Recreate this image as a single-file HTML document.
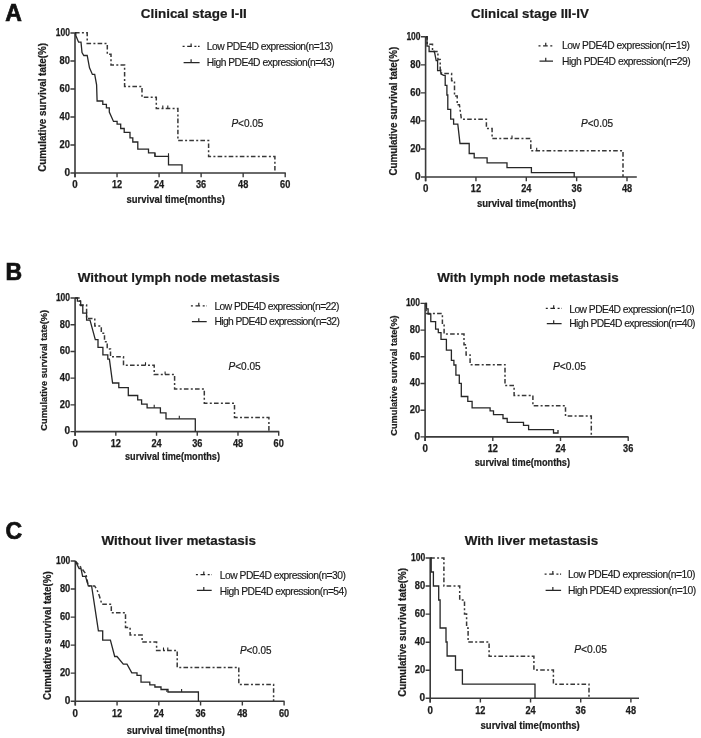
<!DOCTYPE html><html><head><meta charset="utf-8"><style>html,body{margin:0;padding:0;background:#fff}svg{display:block;filter:blur(0.3px)}text{font-family:"Liberation Sans",sans-serif}</style></head><body>
<svg width="701" height="738" viewBox="0 0 701 738">
<rect width="701" height="738" fill="#fff"/>
<text x="5.3" y="21.0" font-size="23" font-weight="bold" fill="#111" stroke="#111" stroke-width="0.7">A</text>
<text x="5.5" y="280.1" font-size="23" font-weight="bold" fill="#111" stroke="#111" stroke-width="0.7">B</text>
<text x="5.5" y="539.0" font-size="23" font-weight="bold" fill="#111" stroke="#111" stroke-width="0.7">C</text>
<path d="M75,33.0 V177.2 M75,173.0 H285.8" stroke="#3a3a3a" stroke-width="1.6" fill="none"/>
<path d="M70.4,173.00 H75 M70.4,145.00 H75 M70.4,117.00 H75 M70.4,89.00 H75 M70.4,61.00 H75 M70.4,33.00 H75 M75.00,173.0 V177.2 M117.04,173.0 V177.2 M159.08,173.0 V177.2 M201.12,173.0 V177.2 M243.16,173.0 V177.2 M285.20,173.0 V177.2 " stroke="#3a3a3a" stroke-width="1.4" fill="none"/>
<text x="70.0" y="175.80" font-size="10.0" font-weight="bold" text-anchor="end" fill="#1c1c1c" stroke="#1c1c1c" stroke-width="0.25" textLength="5.6" lengthAdjust="spacingAndGlyphs">0</text>
<text x="70.0" y="147.80" font-size="10.0" font-weight="bold" text-anchor="end" fill="#1c1c1c" stroke="#1c1c1c" stroke-width="0.25" textLength="10.4" lengthAdjust="spacingAndGlyphs">20</text>
<text x="70.0" y="119.80" font-size="10.0" font-weight="bold" text-anchor="end" fill="#1c1c1c" stroke="#1c1c1c" stroke-width="0.25" textLength="10.4" lengthAdjust="spacingAndGlyphs">40</text>
<text x="70.0" y="91.80" font-size="10.0" font-weight="bold" text-anchor="end" fill="#1c1c1c" stroke="#1c1c1c" stroke-width="0.25" textLength="10.4" lengthAdjust="spacingAndGlyphs">60</text>
<text x="70.0" y="63.80" font-size="10.0" font-weight="bold" text-anchor="end" fill="#1c1c1c" stroke="#1c1c1c" stroke-width="0.25" textLength="10.4" lengthAdjust="spacingAndGlyphs">80</text>
<text x="70.0" y="35.80" font-size="10.0" font-weight="bold" text-anchor="end" fill="#1c1c1c" stroke="#1c1c1c" stroke-width="0.25" textLength="14.2" lengthAdjust="spacingAndGlyphs">100</text>
<text x="75.00" y="188.30" font-size="10.0" font-weight="bold" text-anchor="middle" fill="#1c1c1c" stroke="#1c1c1c" stroke-width="0.25" textLength="5.4" lengthAdjust="spacingAndGlyphs">0</text>
<text x="117.04" y="188.30" font-size="10.0" font-weight="bold" text-anchor="middle" fill="#1c1c1c" stroke="#1c1c1c" stroke-width="0.25" textLength="10.2" lengthAdjust="spacingAndGlyphs">12</text>
<text x="159.08" y="188.30" font-size="10.0" font-weight="bold" text-anchor="middle" fill="#1c1c1c" stroke="#1c1c1c" stroke-width="0.25" textLength="10.2" lengthAdjust="spacingAndGlyphs">24</text>
<text x="201.12" y="188.30" font-size="10.0" font-weight="bold" text-anchor="middle" fill="#1c1c1c" stroke="#1c1c1c" stroke-width="0.25" textLength="10.2" lengthAdjust="spacingAndGlyphs">36</text>
<text x="243.16" y="188.30" font-size="10.0" font-weight="bold" text-anchor="middle" fill="#1c1c1c" stroke="#1c1c1c" stroke-width="0.25" textLength="10.2" lengthAdjust="spacingAndGlyphs">48</text>
<text x="285.20" y="188.30" font-size="10.0" font-weight="bold" text-anchor="middle" fill="#1c1c1c" stroke="#1c1c1c" stroke-width="0.25" textLength="10.2" lengthAdjust="spacingAndGlyphs">60</text>
<text x="126.5" y="203" font-size="10" font-weight="bold" text-anchor="start" fill="#1c1c1c" stroke="#1c1c1c" stroke-width="0.22" textLength="98.5" lengthAdjust="spacingAndGlyphs">survival time(months)</text>
<text transform="translate(46.1,171.8) rotate(-90)" x="0" y="0" font-size="10" font-weight="bold" fill="#1c1c1c" stroke="#1c1c1c" stroke-width="0.22" textLength="128.8" lengthAdjust="spacingAndGlyphs">Cumulative survival tate(%)</text>
<text x="140.8" y="18.0" font-size="13.3" font-weight="bold" text-anchor="start" fill="#1c1c1c" stroke="#1c1c1c" stroke-width="0.22" textLength="106.0" lengthAdjust="spacingAndGlyphs">Clinical stage I-II</text>
<path d="M75,32.8 H87.2 V43.5 H107.3 V54.2 H111 V65 H124.6 V86.4 H142 V97.2 H156.3 V108.6 H177.9 V140.5 H208.6 V156.6 H274.9 V172.8" stroke="#383838" stroke-width="1.5" fill="none" stroke-dasharray="4.6 2.3 2 2.2"/>
<path d="M75,32.8 H75.8 V35.6 L78.6,42.2 H81 L82,52.6 L83.8,55.5 H87.2 L89.5,67.8 L92.4,74.4 H94.7 L96.6,84.9 L97.1,101 H102.8 V104.3 H106.4 V107.8 H109.3 V112.1 L113.5,121.4 H117.1 V124.2 H120.7 V128.5 H124.2 V132.4 H130 V137.8 H132.8 V142 H137.8 V149.2 H148.5 V152.8 H154.9 V156.3 H168.5 V164.9 H182 V172.8" stroke="#262626" stroke-width="1.3" fill="none"/>
<path d="M162.8,108.6 V105.6 M167.8,108.6 V105.6 M155,156.3 V153.3 M168.5,156.3 V153.3 " stroke="#262626" stroke-width="1.1" fill="none"/>
<path d="M182.6,46.4 H199.6" stroke="#262626" stroke-width="1.2" fill="none" stroke-dasharray="2 2.6 4.6 2.6 2 1.6 1.8 9"/>
<path d="M191.1,46.4 V43.4 M183.6,62.7 H199.6 M191.1,62.7 V59.300000000000004" stroke="#262626" stroke-width="1.2" fill="none"/>
<text x="206.7" y="49.8" font-size="10.3" fill="#1a1a1a" stroke="#1a1a1a" stroke-width="0.15" textLength="126.5" lengthAdjust="spacing">Low PDE4D expression(n=13)</text>
<text x="206.7" y="65.5" font-size="10.3" fill="#1a1a1a" stroke="#1a1a1a" stroke-width="0.15" textLength="128" lengthAdjust="spacing">High PDE4D expression(n=43)</text>
<text x="231.4" y="127.1" font-size="10.2" fill="#1a1a1a" stroke="#1a1a1a" stroke-width="0.2" textLength="32.0" lengthAdjust="spacingAndGlyphs"><tspan font-style="italic">P</tspan>&lt;0.05</text>
<path d="M425.6,36.8 V181.2 M425.6,177 H636.8" stroke="#3a3a3a" stroke-width="1.6" fill="none"/>
<path d="M421.0,177.00 H425.6 M421.0,148.96 H425.6 M421.0,120.92 H425.6 M421.0,92.88 H425.6 M421.0,64.84 H425.6 M421.0,36.80 H425.6 M425.60,177 V181.2 M475.95,177 V181.2 M526.30,177 V181.2 M576.65,177 V181.2 M627.00,177 V181.2 " stroke="#3a3a3a" stroke-width="1.4" fill="none"/>
<text x="420.6" y="179.80" font-size="10.0" font-weight="bold" text-anchor="end" fill="#1c1c1c" stroke="#1c1c1c" stroke-width="0.25" textLength="5.6" lengthAdjust="spacingAndGlyphs">0</text>
<text x="420.6" y="151.76" font-size="10.0" font-weight="bold" text-anchor="end" fill="#1c1c1c" stroke="#1c1c1c" stroke-width="0.25" textLength="10.4" lengthAdjust="spacingAndGlyphs">20</text>
<text x="420.6" y="123.72" font-size="10.0" font-weight="bold" text-anchor="end" fill="#1c1c1c" stroke="#1c1c1c" stroke-width="0.25" textLength="10.4" lengthAdjust="spacingAndGlyphs">40</text>
<text x="420.6" y="95.68" font-size="10.0" font-weight="bold" text-anchor="end" fill="#1c1c1c" stroke="#1c1c1c" stroke-width="0.25" textLength="10.4" lengthAdjust="spacingAndGlyphs">60</text>
<text x="420.6" y="67.64" font-size="10.0" font-weight="bold" text-anchor="end" fill="#1c1c1c" stroke="#1c1c1c" stroke-width="0.25" textLength="10.4" lengthAdjust="spacingAndGlyphs">80</text>
<text x="420.6" y="39.60" font-size="10.0" font-weight="bold" text-anchor="end" fill="#1c1c1c" stroke="#1c1c1c" stroke-width="0.25" textLength="14.2" lengthAdjust="spacingAndGlyphs">100</text>
<text x="425.60" y="192.30" font-size="10.0" font-weight="bold" text-anchor="middle" fill="#1c1c1c" stroke="#1c1c1c" stroke-width="0.25" textLength="5.4" lengthAdjust="spacingAndGlyphs">0</text>
<text x="475.95" y="192.30" font-size="10.0" font-weight="bold" text-anchor="middle" fill="#1c1c1c" stroke="#1c1c1c" stroke-width="0.25" textLength="10.2" lengthAdjust="spacingAndGlyphs">12</text>
<text x="526.30" y="192.30" font-size="10.0" font-weight="bold" text-anchor="middle" fill="#1c1c1c" stroke="#1c1c1c" stroke-width="0.25" textLength="10.2" lengthAdjust="spacingAndGlyphs">24</text>
<text x="576.65" y="192.30" font-size="10.0" font-weight="bold" text-anchor="middle" fill="#1c1c1c" stroke="#1c1c1c" stroke-width="0.25" textLength="10.2" lengthAdjust="spacingAndGlyphs">36</text>
<text x="627.00" y="192.30" font-size="10.0" font-weight="bold" text-anchor="middle" fill="#1c1c1c" stroke="#1c1c1c" stroke-width="0.25" textLength="10.2" lengthAdjust="spacingAndGlyphs">48</text>
<text x="477" y="206.5" font-size="10" font-weight="bold" text-anchor="start" fill="#1c1c1c" stroke="#1c1c1c" stroke-width="0.22" textLength="99" lengthAdjust="spacingAndGlyphs">survival time(months)</text>
<text transform="translate(397.2,175.6) rotate(-90)" x="0" y="0" font-size="10" font-weight="bold" fill="#1c1c1c" stroke="#1c1c1c" stroke-width="0.22" textLength="128.8" lengthAdjust="spacingAndGlyphs">Cumulative survival tate(%)</text>
<text x="471" y="18.1" font-size="13.3" font-weight="bold" text-anchor="start" fill="#1c1c1c" stroke="#1c1c1c" stroke-width="0.22" textLength="117.8" lengthAdjust="spacingAndGlyphs">Clinical stage III-IV</text>
<path d="M425.6,36.8 H427.2 V44.2 H432.5 V51.5 H437.9 V59.5 H440.2 V70 H441.5 V73.6 H451.6 V80.8 H454.5 V96.1 H457.2 V104.8 H459.4 L461.4,119.2 H486.4 V128.5 H492.1 V138.4 H530.8 V150.8 H623 V177" stroke="#383838" stroke-width="1.5" fill="none" stroke-dasharray="4.6 2.3 2 2.2"/>
<path d="M425.6,36.8 H427 V46.2 H429.1 V51.5 H434.4 L436.2,60.6 H437.6 V70.6 H440.6 L441,74 L443.7,75.4 H445.2 V85.3 H446.9 V95 H447.8 V109.3 H450.7 V119.2 H453.6 V124.2 H457.8 L460,143.5 H469.2 V153.5 H474.2 V157.8 H487.1 V162.8 H507 V167.6 H531.4 V172.7 H574.2 V177" stroke="#262626" stroke-width="1.3" fill="none"/>
<path d="M512,138.4 V135.4 M536.7,150.8 V147.8 " stroke="#262626" stroke-width="1.1" fill="none"/>
<path d="M538.5,45.8 H553" stroke="#262626" stroke-width="1.2" fill="none" stroke-dasharray="2 2.6 4.6 2.6 2 1.6 1.8 9"/>
<path d="M545.75,45.8 V42.8 M539.5,61.1 H553 M545.75,61.1 V57.7" stroke="#262626" stroke-width="1.2" fill="none"/>
<text x="562.0" y="49.4" font-size="10.3" fill="#1a1a1a" stroke="#1a1a1a" stroke-width="0.15" textLength="127.9" lengthAdjust="spacing">Low PDE4D expression(n=19)</text>
<text x="562.0" y="65.2" font-size="10.3" fill="#1a1a1a" stroke="#1a1a1a" stroke-width="0.15" textLength="128.6" lengthAdjust="spacing">High PDE4D expression(n=29)</text>
<text x="581" y="127.3" font-size="10.2" fill="#1a1a1a" stroke="#1a1a1a" stroke-width="0.2" textLength="32.1" lengthAdjust="spacingAndGlyphs"><tspan font-style="italic">P</tspan>&lt;0.05</text>
<path d="M75.1,298 V435.8 M75.1,431.6 H279.2" stroke="#3a3a3a" stroke-width="1.6" fill="none"/>
<path d="M70.5,431.60 H75.1 M70.5,404.88 H75.1 M70.5,378.16 H75.1 M70.5,351.44 H75.1 M70.5,324.72 H75.1 M70.5,298.00 H75.1 M75.10,431.6 V435.8 M115.82,431.6 V435.8 M156.54,431.6 V435.8 M197.26,431.6 V435.8 M237.98,431.6 V435.8 M278.70,431.6 V435.8 " stroke="#3a3a3a" stroke-width="1.4" fill="none"/>
<text x="70.1" y="434.40" font-size="10.0" font-weight="bold" text-anchor="end" fill="#1c1c1c" stroke="#1c1c1c" stroke-width="0.25" textLength="5.6" lengthAdjust="spacingAndGlyphs">0</text>
<text x="70.1" y="407.68" font-size="10.0" font-weight="bold" text-anchor="end" fill="#1c1c1c" stroke="#1c1c1c" stroke-width="0.25" textLength="10.4" lengthAdjust="spacingAndGlyphs">20</text>
<text x="70.1" y="380.96" font-size="10.0" font-weight="bold" text-anchor="end" fill="#1c1c1c" stroke="#1c1c1c" stroke-width="0.25" textLength="10.4" lengthAdjust="spacingAndGlyphs">40</text>
<text x="70.1" y="354.24" font-size="10.0" font-weight="bold" text-anchor="end" fill="#1c1c1c" stroke="#1c1c1c" stroke-width="0.25" textLength="10.4" lengthAdjust="spacingAndGlyphs">60</text>
<text x="70.1" y="327.52" font-size="10.0" font-weight="bold" text-anchor="end" fill="#1c1c1c" stroke="#1c1c1c" stroke-width="0.25" textLength="10.4" lengthAdjust="spacingAndGlyphs">80</text>
<text x="70.1" y="300.80" font-size="10.0" font-weight="bold" text-anchor="end" fill="#1c1c1c" stroke="#1c1c1c" stroke-width="0.25" textLength="14.2" lengthAdjust="spacingAndGlyphs">100</text>
<text x="75.10" y="446.90" font-size="10.0" font-weight="bold" text-anchor="middle" fill="#1c1c1c" stroke="#1c1c1c" stroke-width="0.25" textLength="5.4" lengthAdjust="spacingAndGlyphs">0</text>
<text x="115.82" y="446.90" font-size="10.0" font-weight="bold" text-anchor="middle" fill="#1c1c1c" stroke="#1c1c1c" stroke-width="0.25" textLength="10.2" lengthAdjust="spacingAndGlyphs">12</text>
<text x="156.54" y="446.90" font-size="10.0" font-weight="bold" text-anchor="middle" fill="#1c1c1c" stroke="#1c1c1c" stroke-width="0.25" textLength="10.2" lengthAdjust="spacingAndGlyphs">24</text>
<text x="197.26" y="446.90" font-size="10.0" font-weight="bold" text-anchor="middle" fill="#1c1c1c" stroke="#1c1c1c" stroke-width="0.25" textLength="10.2" lengthAdjust="spacingAndGlyphs">36</text>
<text x="237.98" y="446.90" font-size="10.0" font-weight="bold" text-anchor="middle" fill="#1c1c1c" stroke="#1c1c1c" stroke-width="0.25" textLength="10.2" lengthAdjust="spacingAndGlyphs">48</text>
<text x="278.70" y="446.90" font-size="10.0" font-weight="bold" text-anchor="middle" fill="#1c1c1c" stroke="#1c1c1c" stroke-width="0.25" textLength="10.2" lengthAdjust="spacingAndGlyphs">60</text>
<text x="125" y="460" font-size="10" font-weight="bold" text-anchor="start" fill="#1c1c1c" stroke="#1c1c1c" stroke-width="0.22" textLength="95" lengthAdjust="spacingAndGlyphs">survival time(months)</text>
<text transform="translate(47.2,430.7) rotate(-90)" x="0" y="0" font-size="9.3" font-weight="bold" fill="#1c1c1c" stroke="#1c1c1c" stroke-width="0.22" textLength="120.8" lengthAdjust="spacingAndGlyphs">Cumulative survival tate(%)</text>
<text x="77.8" y="281.5" font-size="13.3" font-weight="bold" text-anchor="start" fill="#1c1c1c" stroke="#1c1c1c" stroke-width="0.22" textLength="201.9" lengthAdjust="spacingAndGlyphs">Without lymph node metastasis</text>
<path d="M75.1,298 H80.1 V305 H86.6 V318.5 H94.8 V326.1 H101.3 V333.2 H104.5 V341.8 H107.2 V348.9 H110.5 V356.8 H123.5 V365.2 H154.2 V374.6 H174.6 V389 H204.3 V403.3 H234.5 V417.5 H268.9 V431.6" stroke="#383838" stroke-width="1.5" fill="none" stroke-dasharray="4.6 2.3 2 2.2"/>
<path d="M75.1,298 H77.4 V301.2 H80.7 V305.5 H82.8 V313.1 H86.6 V320.2 H90 L95.3,339.7 H98 V347.3 H102.9 V354.8 H107.8 V359.2 H109.4 L112.6,383 H118.8 V387.7 H128.3 V395.5 H137.7 V399.9 H141.6 V404.2 H147.1 V407.8 H160.4 V412.8 H166 V418.8 H195.3 V431.6" stroke="#262626" stroke-width="1.3" fill="none"/>
<path d="M145.5,365.2 V362.2 M165.1,374.6 V371.6 M154.2,407.8 V404.8 M179.3,418.8 V415.8 " stroke="#262626" stroke-width="1.1" fill="none"/>
<path d="M190.9,305.8 H206.7" stroke="#262626" stroke-width="1.2" fill="none" stroke-dasharray="2 2.6 4.6 2.6 2 1.6 1.8 9"/>
<path d="M198.8,305.8 V302.8 M191.9,321.6 H206.7 M198.8,321.6 V318.20000000000005" stroke="#262626" stroke-width="1.2" fill="none"/>
<text x="214.4" y="309.9" font-size="10.3" fill="#1a1a1a" stroke="#1a1a1a" stroke-width="0.15" textLength="125" lengthAdjust="spacing">Low PDE4D expression(n=22)</text>
<text x="214.4" y="325.2" font-size="10.3" fill="#1a1a1a" stroke="#1a1a1a" stroke-width="0.15" textLength="125.5" lengthAdjust="spacing">High PDE4D expression(n=32)</text>
<text x="228.5" y="369.6" font-size="10.2" fill="#1a1a1a" stroke="#1a1a1a" stroke-width="0.2" textLength="32.2" lengthAdjust="spacingAndGlyphs"><tspan font-style="italic">P</tspan>&lt;0.05</text>
<path d="M425.1,303.4 V441.09999999999997 M425.1,436.9 H628.6" stroke="#3a3a3a" stroke-width="1.6" fill="none"/>
<path d="M420.5,436.90 H425.1 M420.5,410.20 H425.1 M420.5,383.50 H425.1 M420.5,356.80 H425.1 M420.5,330.10 H425.1 M420.5,303.40 H425.1 M425.10,436.9 V441.09999999999997 M492.80,436.9 V441.09999999999997 M560.50,436.9 V441.09999999999997 M628.20,436.9 V441.09999999999997 " stroke="#3a3a3a" stroke-width="1.4" fill="none"/>
<text x="420.1" y="439.70" font-size="10.0" font-weight="bold" text-anchor="end" fill="#1c1c1c" stroke="#1c1c1c" stroke-width="0.25" textLength="5.6" lengthAdjust="spacingAndGlyphs">0</text>
<text x="420.1" y="413.00" font-size="10.0" font-weight="bold" text-anchor="end" fill="#1c1c1c" stroke="#1c1c1c" stroke-width="0.25" textLength="10.4" lengthAdjust="spacingAndGlyphs">20</text>
<text x="420.1" y="386.30" font-size="10.0" font-weight="bold" text-anchor="end" fill="#1c1c1c" stroke="#1c1c1c" stroke-width="0.25" textLength="10.4" lengthAdjust="spacingAndGlyphs">40</text>
<text x="420.1" y="359.60" font-size="10.0" font-weight="bold" text-anchor="end" fill="#1c1c1c" stroke="#1c1c1c" stroke-width="0.25" textLength="10.4" lengthAdjust="spacingAndGlyphs">60</text>
<text x="420.1" y="332.90" font-size="10.0" font-weight="bold" text-anchor="end" fill="#1c1c1c" stroke="#1c1c1c" stroke-width="0.25" textLength="10.4" lengthAdjust="spacingAndGlyphs">80</text>
<text x="420.1" y="306.20" font-size="10.0" font-weight="bold" text-anchor="end" fill="#1c1c1c" stroke="#1c1c1c" stroke-width="0.25" textLength="14.2" lengthAdjust="spacingAndGlyphs">100</text>
<text x="425.10" y="452.20" font-size="10.0" font-weight="bold" text-anchor="middle" fill="#1c1c1c" stroke="#1c1c1c" stroke-width="0.25" textLength="5.4" lengthAdjust="spacingAndGlyphs">0</text>
<text x="492.80" y="452.20" font-size="10.0" font-weight="bold" text-anchor="middle" fill="#1c1c1c" stroke="#1c1c1c" stroke-width="0.25" textLength="10.2" lengthAdjust="spacingAndGlyphs">12</text>
<text x="560.50" y="452.20" font-size="10.0" font-weight="bold" text-anchor="middle" fill="#1c1c1c" stroke="#1c1c1c" stroke-width="0.25" textLength="10.2" lengthAdjust="spacingAndGlyphs">24</text>
<text x="628.20" y="452.20" font-size="10.0" font-weight="bold" text-anchor="middle" fill="#1c1c1c" stroke="#1c1c1c" stroke-width="0.25" textLength="10.2" lengthAdjust="spacingAndGlyphs">36</text>
<text x="474.7" y="465.8" font-size="10" font-weight="bold" text-anchor="start" fill="#1c1c1c" stroke="#1c1c1c" stroke-width="0.22" textLength="95.3" lengthAdjust="spacingAndGlyphs">survival time(months)</text>
<text transform="translate(397.2,435.7) rotate(-90)" x="0" y="0" font-size="9.3" font-weight="bold" fill="#1c1c1c" stroke="#1c1c1c" stroke-width="0.22" textLength="120.4" lengthAdjust="spacingAndGlyphs">Cumulative survival tate(%)</text>
<text x="437.3" y="281.8" font-size="13.3" font-weight="bold" text-anchor="start" fill="#1c1c1c" stroke="#1c1c1c" stroke-width="0.22" textLength="181.4" lengthAdjust="spacingAndGlyphs">With lymph node metastasis</text>
<path d="M425.1,303.4 H426.1 V313.6 H442.4 V324.4 H444.1 V333.9 H464 V344.7 H466.1 V354.9 H470.1 V364.7 H505 V385.6 H514.1 V395.4 H532.9 V405.7 H565.5 V416.1 H591.3 V436.9" stroke="#383838" stroke-width="1.5" fill="none" stroke-dasharray="4.6 2.3 2 2.2"/>
<path d="M425.1,303.4 H426.5 V308.8 H428.1 V314 H430.8 V321.7 H435.6 V329.2 H438.3 V332.6 H441 V339.3 H446.4 V350.2 H451.4 V360.3 H453.9 V365 H455.9 V375.2 H459.3 V383.4 H461.3 V396.5 H467.8 V401.4 H472.1 V407.9 H490.1 V410.8 H493.5 V414.7 H503 V418.5 H507.2 V422.3 H523.5 V425.3 H528.6 V429.6 H553.5 V433 H558 V430" stroke="#262626" stroke-width="1.3" fill="none"/>
<path d="M545.8,308.3 H561.6" stroke="#262626" stroke-width="1.2" fill="none" stroke-dasharray="2 2.6 4.6 2.6 2 1.6 1.8 9"/>
<path d="M553.7,308.3 V305.3 M546.8,323.6 H561.6 M553.7,323.6 V320.20000000000005" stroke="#262626" stroke-width="1.2" fill="none"/>
<text x="569.2" y="312.5" font-size="10.3" fill="#1a1a1a" stroke="#1a1a1a" stroke-width="0.15" textLength="125.5" lengthAdjust="spacing">Low PDE4D expression(n=10)</text>
<text x="569.2" y="327" font-size="10.3" fill="#1a1a1a" stroke="#1a1a1a" stroke-width="0.15" textLength="126.3" lengthAdjust="spacing">High PDE4D expression(n=40)</text>
<text x="553" y="369.7" font-size="10.2" fill="#1a1a1a" stroke="#1a1a1a" stroke-width="0.2" textLength="32.9" lengthAdjust="spacingAndGlyphs"><tspan font-style="italic">P</tspan>&lt;0.05</text>
<path d="M75.3,561 V705.4000000000001 M75.3,701.2 H284.5" stroke="#3a3a3a" stroke-width="1.6" fill="none"/>
<path d="M70.7,701.20 H75.3 M70.7,673.16 H75.3 M70.7,645.12 H75.3 M70.7,617.08 H75.3 M70.7,589.04 H75.3 M70.7,561.00 H75.3 M75.30,701.2 V705.4000000000001 M117.06,701.2 V705.4000000000001 M158.82,701.2 V705.4000000000001 M200.58,701.2 V705.4000000000001 M242.34,701.2 V705.4000000000001 M284.10,701.2 V705.4000000000001 " stroke="#3a3a3a" stroke-width="1.4" fill="none"/>
<text x="70.3" y="704.00" font-size="10.0" font-weight="bold" text-anchor="end" fill="#1c1c1c" stroke="#1c1c1c" stroke-width="0.25" textLength="5.6" lengthAdjust="spacingAndGlyphs">0</text>
<text x="70.3" y="675.96" font-size="10.0" font-weight="bold" text-anchor="end" fill="#1c1c1c" stroke="#1c1c1c" stroke-width="0.25" textLength="10.4" lengthAdjust="spacingAndGlyphs">20</text>
<text x="70.3" y="647.92" font-size="10.0" font-weight="bold" text-anchor="end" fill="#1c1c1c" stroke="#1c1c1c" stroke-width="0.25" textLength="10.4" lengthAdjust="spacingAndGlyphs">40</text>
<text x="70.3" y="619.88" font-size="10.0" font-weight="bold" text-anchor="end" fill="#1c1c1c" stroke="#1c1c1c" stroke-width="0.25" textLength="10.4" lengthAdjust="spacingAndGlyphs">60</text>
<text x="70.3" y="591.84" font-size="10.0" font-weight="bold" text-anchor="end" fill="#1c1c1c" stroke="#1c1c1c" stroke-width="0.25" textLength="10.4" lengthAdjust="spacingAndGlyphs">80</text>
<text x="70.3" y="563.80" font-size="10.0" font-weight="bold" text-anchor="end" fill="#1c1c1c" stroke="#1c1c1c" stroke-width="0.25" textLength="14.2" lengthAdjust="spacingAndGlyphs">100</text>
<text x="75.30" y="716.50" font-size="10.0" font-weight="bold" text-anchor="middle" fill="#1c1c1c" stroke="#1c1c1c" stroke-width="0.25" textLength="5.4" lengthAdjust="spacingAndGlyphs">0</text>
<text x="117.06" y="716.50" font-size="10.0" font-weight="bold" text-anchor="middle" fill="#1c1c1c" stroke="#1c1c1c" stroke-width="0.25" textLength="10.2" lengthAdjust="spacingAndGlyphs">12</text>
<text x="158.82" y="716.50" font-size="10.0" font-weight="bold" text-anchor="middle" fill="#1c1c1c" stroke="#1c1c1c" stroke-width="0.25" textLength="10.2" lengthAdjust="spacingAndGlyphs">24</text>
<text x="200.58" y="716.50" font-size="10.0" font-weight="bold" text-anchor="middle" fill="#1c1c1c" stroke="#1c1c1c" stroke-width="0.25" textLength="10.2" lengthAdjust="spacingAndGlyphs">36</text>
<text x="242.34" y="716.50" font-size="10.0" font-weight="bold" text-anchor="middle" fill="#1c1c1c" stroke="#1c1c1c" stroke-width="0.25" textLength="10.2" lengthAdjust="spacingAndGlyphs">48</text>
<text x="284.10" y="716.50" font-size="10.0" font-weight="bold" text-anchor="middle" fill="#1c1c1c" stroke="#1c1c1c" stroke-width="0.25" textLength="10.2" lengthAdjust="spacingAndGlyphs">60</text>
<text x="126.8" y="733.5" font-size="10" font-weight="bold" text-anchor="start" fill="#1c1c1c" stroke="#1c1c1c" stroke-width="0.22" textLength="98.2" lengthAdjust="spacingAndGlyphs">survival time(months)</text>
<text transform="translate(51.1,699.9) rotate(-90)" x="0" y="0" font-size="10" font-weight="bold" fill="#1c1c1c" stroke="#1c1c1c" stroke-width="0.22" textLength="128.8" lengthAdjust="spacingAndGlyphs">Cumulative survival tate(%)</text>
<text x="101.4" y="545.0" font-size="13.3" font-weight="bold" text-anchor="start" fill="#1c1c1c" stroke="#1c1c1c" stroke-width="0.22" textLength="154.5" lengthAdjust="spacingAndGlyphs">Without liver metastasis</text>
<path d="M75.3,561 L81,567.4 L85.9,574 L88.3,585.9 H94.6 L97,589.7 L99.4,596 L101.9,604.3 H111.3 V612.8 H125.5 V627.4 H130.1 V635.1 H142.1 V642 H156.6 V650.4 H177.2 V667.4 H238.8 V684.5 H273.6 V701.2" stroke="#383838" stroke-width="1.5" fill="none" stroke-dasharray="4.6 2.3 2 2.2"/>
<path d="M75.3,561 L79.1,568.5 H81 L82.6,576.4 H85.5 L88.3,585.9 H91.6 L98.4,630.8 H102.7 V640.2 H110.4 L114.7,656.5 H117 L123.3,664.2 H127 L131.8,672.8 H137 V675.3 H141 V682.2 H149.8 V684.8 H154.9 V687 H161 V689.5 H168 V692 H198.4 V701.2" stroke="#262626" stroke-width="1.3" fill="none"/>
<path d="M163.5,650.4 V647.4 M167.8,650.4 V647.4 M166.9,692 V689 M181.6,692 V689 " stroke="#262626" stroke-width="1.1" fill="none"/>
<path d="M195.9,574.6 H211.7" stroke="#262626" stroke-width="1.2" fill="none" stroke-dasharray="2 2.6 4.6 2.6 2 1.6 1.8 9"/>
<path d="M203.8,574.6 V571.6 M196.9,590.3 H211.7 M203.8,590.3 V586.9" stroke="#262626" stroke-width="1.2" fill="none"/>
<text x="219.8" y="578.9" font-size="10.3" fill="#1a1a1a" stroke="#1a1a1a" stroke-width="0.15" textLength="126.2" lengthAdjust="spacing">Low PDE4D expression(n=30)</text>
<text x="219.8" y="594.5" font-size="10.3" fill="#1a1a1a" stroke="#1a1a1a" stroke-width="0.15" textLength="127.4" lengthAdjust="spacing">High PDE4D expression(n=54)</text>
<text x="239.9" y="653.5" font-size="10.2" fill="#1a1a1a" stroke="#1a1a1a" stroke-width="0.2" textLength="31.7" lengthAdjust="spacingAndGlyphs"><tspan font-style="italic">P</tspan>&lt;0.05</text>
<path d="M430.2,558 V702.5 M430.2,698.3 H639" stroke="#3a3a3a" stroke-width="1.6" fill="none"/>
<path d="M425.59999999999997,698.30 H430.2 M425.59999999999997,670.24 H430.2 M425.59999999999997,642.18 H430.2 M425.59999999999997,614.12 H430.2 M425.59999999999997,586.06 H430.2 M425.59999999999997,558.00 H430.2 M430.20,698.3 V702.5 M480.38,698.3 V702.5 M530.55,698.3 V702.5 M580.72,698.3 V702.5 M630.90,698.3 V702.5 " stroke="#3a3a3a" stroke-width="1.4" fill="none"/>
<text x="425.2" y="701.10" font-size="10.0" font-weight="bold" text-anchor="end" fill="#1c1c1c" stroke="#1c1c1c" stroke-width="0.25" textLength="5.6" lengthAdjust="spacingAndGlyphs">0</text>
<text x="425.2" y="673.04" font-size="10.0" font-weight="bold" text-anchor="end" fill="#1c1c1c" stroke="#1c1c1c" stroke-width="0.25" textLength="10.4" lengthAdjust="spacingAndGlyphs">20</text>
<text x="425.2" y="644.98" font-size="10.0" font-weight="bold" text-anchor="end" fill="#1c1c1c" stroke="#1c1c1c" stroke-width="0.25" textLength="10.4" lengthAdjust="spacingAndGlyphs">40</text>
<text x="425.2" y="616.92" font-size="10.0" font-weight="bold" text-anchor="end" fill="#1c1c1c" stroke="#1c1c1c" stroke-width="0.25" textLength="10.4" lengthAdjust="spacingAndGlyphs">60</text>
<text x="425.2" y="588.86" font-size="10.0" font-weight="bold" text-anchor="end" fill="#1c1c1c" stroke="#1c1c1c" stroke-width="0.25" textLength="10.4" lengthAdjust="spacingAndGlyphs">80</text>
<text x="425.2" y="560.80" font-size="10.0" font-weight="bold" text-anchor="end" fill="#1c1c1c" stroke="#1c1c1c" stroke-width="0.25" textLength="14.2" lengthAdjust="spacingAndGlyphs">100</text>
<text x="430.20" y="713.60" font-size="10.0" font-weight="bold" text-anchor="middle" fill="#1c1c1c" stroke="#1c1c1c" stroke-width="0.25" textLength="5.4" lengthAdjust="spacingAndGlyphs">0</text>
<text x="480.38" y="713.60" font-size="10.0" font-weight="bold" text-anchor="middle" fill="#1c1c1c" stroke="#1c1c1c" stroke-width="0.25" textLength="10.2" lengthAdjust="spacingAndGlyphs">12</text>
<text x="530.55" y="713.60" font-size="10.0" font-weight="bold" text-anchor="middle" fill="#1c1c1c" stroke="#1c1c1c" stroke-width="0.25" textLength="10.2" lengthAdjust="spacingAndGlyphs">24</text>
<text x="580.72" y="713.60" font-size="10.0" font-weight="bold" text-anchor="middle" fill="#1c1c1c" stroke="#1c1c1c" stroke-width="0.25" textLength="10.2" lengthAdjust="spacingAndGlyphs">36</text>
<text x="630.90" y="713.60" font-size="10.0" font-weight="bold" text-anchor="middle" fill="#1c1c1c" stroke="#1c1c1c" stroke-width="0.25" textLength="10.2" lengthAdjust="spacingAndGlyphs">48</text>
<text x="480.5" y="728.6" font-size="10" font-weight="bold" text-anchor="start" fill="#1c1c1c" stroke="#1c1c1c" stroke-width="0.22" textLength="99.3" lengthAdjust="spacingAndGlyphs">survival time(months)</text>
<text transform="translate(406.4,696.8) rotate(-90)" x="0" y="0" font-size="10" font-weight="bold" fill="#1c1c1c" stroke="#1c1c1c" stroke-width="0.22" textLength="128.8" lengthAdjust="spacingAndGlyphs">Cumulative survival tate(%)</text>
<text x="464.8" y="545.0" font-size="13.3" font-weight="bold" text-anchor="start" fill="#1c1c1c" stroke="#1c1c1c" stroke-width="0.22" textLength="133.5" lengthAdjust="spacingAndGlyphs">With liver metastasis</text>
<path d="M430.2,558 H443.9 V586 H459.7 V600 H464.5 V614 H466.6 V628 H468.1 V642 H489.1 V656.3 H533.9 V670 H553.4 V684.2 H589 V698.3" stroke="#383838" stroke-width="1.5" fill="none" stroke-dasharray="4.6 2.3 2 2.2"/>
<path d="M430.2,558 H431.2 V572 H433.4 V586 H438.7 V600 H440.1 V628 H446 V642 H447.1 V656 H455.5 V670 H462.4 V684.2 H535 V698.3" stroke="#262626" stroke-width="1.3" fill="none"/>
<path d="M544.6,574.1 H561.1" stroke="#262626" stroke-width="1.2" fill="none" stroke-dasharray="2 2.6 4.6 2.6 2 1.6 1.8 9"/>
<path d="M552.85,574.1 V571.1 M545.6,590.3 H561.1 M552.85,590.3 V586.9" stroke="#262626" stroke-width="1.2" fill="none"/>
<text x="568.0" y="578.2" font-size="10.3" fill="#1a1a1a" stroke="#1a1a1a" stroke-width="0.15" textLength="127.5" lengthAdjust="spacing">Low PDE4D expression(n=10)</text>
<text x="568.0" y="594" font-size="10.3" fill="#1a1a1a" stroke="#1a1a1a" stroke-width="0.15" textLength="128.2" lengthAdjust="spacing">High PDE4D expression(n=10)</text>
<text x="574.2" y="653.3" font-size="10.2" fill="#1a1a1a" stroke="#1a1a1a" stroke-width="0.2" textLength="32.7" lengthAdjust="spacingAndGlyphs"><tspan font-style="italic">P</tspan>&lt;0.05</text>
</svg></body></html>
